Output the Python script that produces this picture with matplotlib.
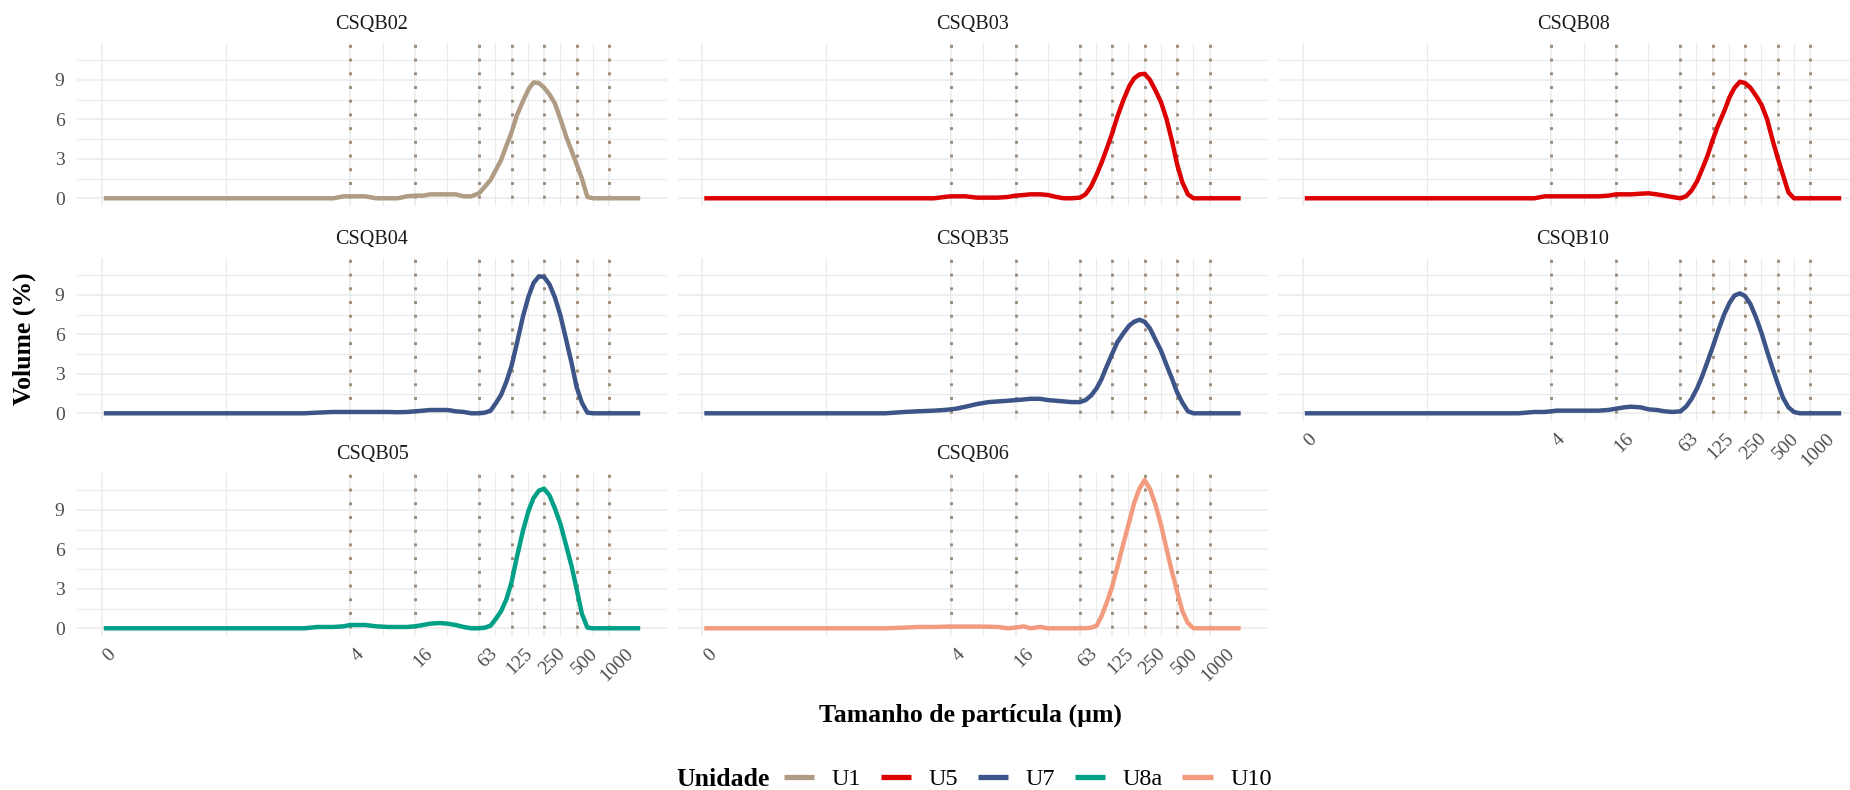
import matplotlib
matplotlib.use("Agg")
import matplotlib.pyplot as plt
import matplotlib.transforms as mtransforms
from matplotlib.lines import Line2D
import numpy as np

plt.rcParams['font.family'] = ['Liberation Serif', 'DejaVu Serif']

# ---------------- data ----------------
size_um = [0.021, 0.05, 0.1, 0.2, 0.4, 0.7, 1.0, 1.5, 2.0, 2.8,
           3.5, 4.0, 4.5, 5.5, 7.0, 9.0, 11, 13.5, 16, 19,
           22, 27, 32, 38, 45, 53, 63, 71, 80, 90,
           100, 112, 125, 140, 160, 180, 200, 224, 250, 280,
           315, 355, 400, 450, 500, 560, 630, 710, 800, 1000,
           1400, 1940]

samples = ["CSQB02", "CSQB03", "CSQB08", "CSQB04", "CSQB35", "CSQB10", "CSQB05", "CSQB06"]
sample_unit = ["U1", "U5", "U5", "U7", "U7", "U7", "U8a", "U10"]

units = ["U1", "U5", "U7", "U8a", "U10"]
unit_colors = ["#B09C85", "#DC0000", "#3C5488", "#00A087", "#F39B7F"]

vol_CSQB02 = [0, 0, 0, 0, 0, 0, 0, 0, 0, 0,
              0.15, 0.15, 0.15, 0.15, 0.0, 0.0, 0.0, 0.15, 0.2, 0.2,
              0.3, 0.3, 0.3, 0.3, 0.15, 0.15, 0.4, 0.9, 1.4, 2.2,
              2.9, 4.0, 5.0, 6.3, 7.4, 8.3, 8.8, 8.75, 8.4, 7.9,
              7.2, 6.0, 4.7, 3.6, 2.6, 1.5, 0.1, 0, 0, 0,
              0, 0]
vol_CSQB03 = [0, 0, 0, 0, 0, 0, 0, 0, 0, 0,
              0.1, 0.15, 0.15, 0.15, 0.05, 0.05, 0.05, 0.1, 0.2, 0.25,
              0.3, 0.3, 0.25, 0.1, 0.0, 0.0, 0.05, 0.3, 0.9, 1.8,
              2.7, 3.8, 4.9, 6.2, 7.5, 8.5, 9.1, 9.4, 9.45, 9.0,
              8.2, 7.3, 6.0, 4.3, 2.6, 1.2, 0.3, 0, 0, 0,
              0, 0]
vol_CSQB08 = [0, 0, 0, 0, 0, 0, 0, 0, 0, 0,
              0.15, 0.15, 0.15, 0.15, 0.15, 0.15, 0.15, 0.2, 0.3, 0.3,
              0.3, 0.35, 0.38, 0.3, 0.2, 0.1, 0.0, 0.15, 0.6, 1.3,
              2.2, 3.2, 4.4, 5.5, 6.6, 7.7, 8.4, 8.85, 8.75, 8.4,
              7.8, 7.1, 6.0, 4.4, 3.1, 1.8, 0.45, 0, 0, 0,
              0, 0]
vol_CSQB04 = [0, 0, 0, 0, 0, 0, 0, 0, 0.05, 0.1,
              0.1, 0.1, 0.1, 0.1, 0.1, 0.1, 0.08, 0.1, 0.15, 0.2,
              0.25, 0.25, 0.25, 0.15, 0.1, 0.0, 0.0, 0.05, 0.2, 0.8,
              1.4, 2.4, 3.6, 5.3, 7.4, 8.9, 9.9, 10.4, 10.35, 9.8,
              8.8, 7.4, 5.6, 3.8, 2.0, 0.8, 0.05, 0, 0, 0,
              0, 0]
vol_CSQB35 = [0, 0, 0, 0, 0, 0, 0.0, 0.1, 0.15, 0.2,
              0.25, 0.3, 0.35, 0.5, 0.7, 0.85, 0.9, 0.95, 1.0, 1.05,
              1.1, 1.1, 1.0, 0.95, 0.9, 0.85, 0.85, 1.0, 1.35, 1.9,
              2.6, 3.6, 4.5, 5.4, 6.1, 6.65, 6.95, 7.1, 6.95, 6.45,
              5.6, 4.75, 3.65, 2.6, 1.6, 0.8, 0.15, 0, 0, 0,
              0, 0]
vol_CSQB10 = [0, 0, 0, 0, 0, 0, 0, 0, 0, 0.1,
              0.1, 0.15, 0.2, 0.2, 0.2, 0.2, 0.2, 0.25, 0.35, 0.45,
              0.5, 0.45, 0.3, 0.25, 0.15, 0.1, 0.15, 0.5, 1.1, 1.9,
              2.8, 3.9, 5.0, 6.2, 7.5, 8.4, 8.95, 9.1, 8.9, 8.3,
              7.3, 6.1, 4.7, 3.4, 2.3, 1.2, 0.45, 0.1, 0, 0,
              0, 0]
vol_CSQB05 = [0, 0, 0, 0, 0, 0, 0, 0, 0.1, 0.1,
              0.15, 0.25, 0.25, 0.25, 0.15, 0.1, 0.1, 0.1, 0.15, 0.25,
              0.35, 0.4, 0.35, 0.25, 0.1, 0.0, 0.0, 0.05, 0.2, 0.75,
              1.3, 2.2, 3.5, 5.4, 7.45, 8.95, 9.9, 10.45, 10.6, 10.1,
              9.1, 7.9, 6.3, 4.7, 3.0, 1.1, 0.05, 0, 0, 0,
              0, 0]
vol_CSQB06 = [0, 0, 0, 0, 0, 0, 0, 0.05, 0.1, 0.1,
              0.12, 0.13, 0.13, 0.13, 0.13, 0.12, 0.1, 0.0, 0.05, 0.15,
              0.0, 0.1, 0.0, 0, 0, 0, 0, 0.0, 0.05, 0.2,
              0.93, 1.98, 3.15, 4.65, 6.5, 8.06, 9.5, 10.6, 11.25, 10.6,
              9.4, 7.85, 6.0, 4.25, 2.8, 1.3, 0.4, 0, 0, 0,
              0, 0]

volumes = [vol_CSQB02, vol_CSQB03, vol_CSQB08, vol_CSQB04, vol_CSQB35,
           vol_CSQB10, vol_CSQB05, vol_CSQB06]

x_breaks = [0.02, 4, 16, 63, 125, 250, 500, 1000]
x_labels = ["0", "4", "16", "63", "125", "250", "500", "1000"]
sieve_limits = [4, 16, 63, 125, 250, 500, 1000]
y_breaks = [0, 3, 6, 9]
y_labels = ["0", "3", "6", "9"]

# ---------------- layout ----------------
W, H = 1850, 790
fig = plt.figure(figsize=(W / 100, H / 100), dpi=100)

col_left = [77, 677.5, 1278]
row_top = [42.7, 257.7, 472.7]
pw, ph = 590, 163

lo, hi = np.log10(min(size_um)), np.log10(max(size_um))
d = hi - lo
xlim = (10 ** (lo - 0.05 * d), 10 ** (hi + 0.05 * d))
ymax = max(max(v) for v in volumes)
ylim = (-0.05 * ymax, ymax * 1.05)

lb = np.log10(x_breaks)
x_minor = [10 ** ((lb[i] + lb[i + 1]) / 2) for i in range(len(lb) - 1)]
y_minor = [(y_breaks[i] + y_breaks[i + 1]) / 2 for i in range(len(y_breaks) - 1)] + [y_breaks[-1] + 1.5]

grid_col = "#EBEBEB"
tick_col = "#4D4D4D"
dot_col = "#9E8C7A"

# bottom-of-column panels get x labels
bottom_panels = {"CSQB05", "CSQB06", "CSQB10"}

for i, (name, unit, vol) in enumerate(zip(samples, sample_unit, volumes)):
    r, c = divmod(i, 3)
    left = col_left[c] / W
    bottom = 1 - (row_top[r] + ph) / H
    ax = fig.add_axes([left, bottom, pw / W, ph / H])
    ax.set_xscale('log')
    ax.set_xlim(*xlim)
    ax.set_ylim(*ylim)
    for s in ax.spines.values():
        s.set_visible(False)
    ax.set_xticks(x_breaks)
    ax.set_xticks(x_minor, minor=True)
    ax.set_yticks(y_breaks)
    ax.set_yticks(y_minor, minor=True)
    ax.grid(which='major', color=grid_col, lw=1.1, zorder=0)
    ax.grid(which='minor', color=grid_col, lw=0.8, zorder=0)
    ax.set_axisbelow(True)
    ax.tick_params(which='both', length=0)
    ax.tick_params(axis='y', which='minor', labelleft=False)
    ax.tick_params(axis='x', which='minor', labelbottom=False)

    if c == 0:
        ax.set_yticklabels(y_labels)
        ax.tick_params(axis='y', which='major', labelsize=14, labelcolor=tick_col, pad=9)
    else:
        ax.tick_params(axis='y', which='major', labelleft=False)

    if name in bottom_panels:
        ax.set_xticklabels(x_labels)
        ax.tick_params(axis='x', which='major', labelsize=14, labelcolor=tick_col, pad=7)
        off = mtransforms.ScaledTranslation(8 / 100, 0, fig.dpi_scale_trans)
        for lab in ax.get_xticklabels():
            lab.set_rotation(45)
            lab.set_ha('center')
            lab.set_va('top')
            lab.set_transform(lab.get_transform() + off)
    else:
        ax.tick_params(axis='x', which='major', labelbottom=False)

    for v in sieve_limits:
        ax.axvline(v, color=dot_col, lw=2.1, linestyle=(2, (1.0, 3.7)),
                   dash_capstyle='butt', zorder=1)

    color = unit_colors[units.index(unit)]
    ax.plot(size_um, vol, color=color, lw=3.2, solid_capstyle='butt',
            solid_joinstyle='round', zorder=3)

    ax.text(0.5, 1 + 18.5 / ph, name, transform=ax.transAxes, ha='center',
            va='center', fontsize=14.5, color='#1A1A1A')

# axis titles
fig.text(24 / W, 1 - 339 / H, "Volume (%)", rotation=90, ha='center', va='center',
         fontsize=18.5, fontweight='bold', color='black')
fig.text(970 / W, 1 - 715 / H, "Tamanho de partícula (µm)", ha='center', va='center',
         fontsize=18.5, fontweight='bold', color='black')

# legend
fig.text(676 / W, 1 - 779 / H, "Unidade", ha='left', va='center',
         fontsize=18.5, fontweight='bold', color='black')
handles = [Line2D([0], [0], color=col, lw=3.8, solid_capstyle='butt') for col in unit_colors]
fig.legend(handles, units, loc='center left', bbox_to_anchor=(784 / W, 1 - 779 / H),
           ncol=5, frameon=False, fontsize=17.5, handlelength=1.25, handletextpad=0.72,
           columnspacing=0.8, borderpad=0, borderaxespad=0)

fig.savefig("out.png", dpi=100, facecolor='white')
